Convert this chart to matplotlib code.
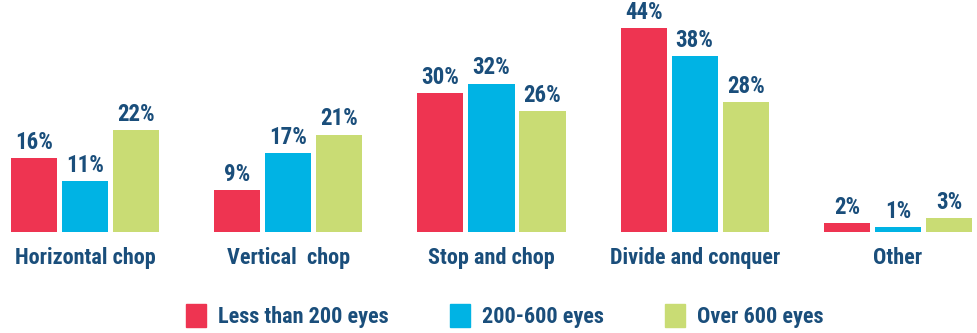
import numpy as np
import matplotlib.pyplot as plt
from matplotlib.patches import Patch

categories = ["Horizontal chop", "Vertical  chop", "Stop and chop", "Divide and conquer", "Other"]
series_names = ["Less than 200 eyes", "200-600 eyes", "Over 600 eyes"]
less_200 = [16, 9, 30, 44, 2]
mid_600 = [11, 17, 32, 38, 1]
over_600 = [22, 21, 26, 28, 3]

colors = ["#ee3451", "#00b3e4", "#c9dc74"]
text_color = "#1a4e7b"
plt.rcParams["font.family"] = ["Roboto Condensed", "Barlow Semi Condensed", "Archivo Narrow", "DejaVu Sans"]

fig = plt.figure(figsize=(9.78, 3.33), dpi=100)
ax = fig.add_axes([0, 101 / 333, 1, 232 / 333])

x = np.arange(len(categories))
width = 0.227
offset = 0.251
for k, vals in enumerate([less_200, mid_600, over_600]):
    pos = x + (k - 1) * offset
    ax.bar(pos, vals, width=width, color=colors[k])
    for px, v in zip(pos, vals):
        ax.annotate(f"{v}%", (px, v), xytext=(0, 3), textcoords="offset points",
                    ha="center", va="bottom", fontsize=16.5, fontweight="bold", color=text_color)

ax.set_xlim(-0.418, 4.394)
ax.set_ylim(0, 50)
ax.axis("off")

for xi, name in zip(x, categories):
    fig.text((xi + 0.418) / 4.812, 1 - 258 / 333, name, ha="center", va="center",
             fontsize=16, fontweight="bold", color=text_color)

# legend row below the category names
handles = [Patch(color=c) for c in colors]
leg = fig.legend(handles, series_names, loc="center", bbox_to_anchor=(505 / 978, 1 - 316 / 333),
                 ncol=3, frameon=False, handlelength=0.89, handleheight=1.17,
                 handletextpad=0.56, columnspacing=2.75, borderpad=0, borderaxespad=0,
                 prop={"size": 16, "weight": "bold"})
for t in leg.get_texts():
    t.set_color(text_color)

fig.savefig("out.png", dpi=100)
